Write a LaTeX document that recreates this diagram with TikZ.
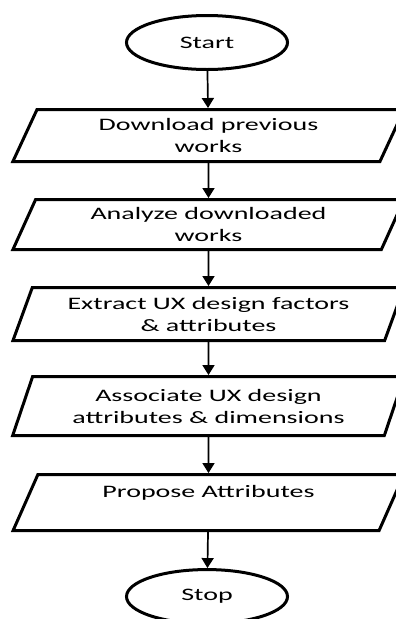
\documentclass[tikz,border=0pt]{standalone}
\usepackage{fontspec}
\setmainfont{Carlito}[FakeStretch=1.6]
\usepackage{tikz}
\usetikzlibrary{positioning}
\usetikzlibrary{shapes.geometric}
\usetikzlibrary{arrows.meta}
\tikzset{edge/.style = {-{Triangle[length=10pt,width=12pt]}, line width=1.7pt}}

\begin{document}
\begin{tikzpicture}[x=1pt,y=1pt,node distance=35pt,
    font=\fontsize{17.5}{22}\selectfont,
    term node/.style={ellipse,draw,line width=3pt,minimum width=161pt,minimum height=54pt},
    io node/.style={trapezium,trapezium left angle=68,trapezium right angle=112,
        trapezium stretches=true,draw,line width=3pt,align=center,inner xsep=0pt,inner ysep=2pt,
        minimum width=392pt,minimum height=52pt}]
                \useasboundingbox (0,0) rectangle (396,-619);

                \node[term node] (start) at (207,-42.5) {Start};
                \node[io node] (1) [below=37pt of start,xshift=1.5pt] {Download previous\\works};
                \node[io node,minimum height=50pt] (2) [below=of 1] {Analyze downloaded\\works};
                \node[io node,minimum height=53pt] (3) [below=of 2] {Extract UX design factors\\\& attributes};
                \node[io node,minimum height=59pt] (4) [below=33pt of 3] {Associate UX design\\attributes \& dimensions};
                \node[io node,minimum height=56pt] (5) [below=36pt of 4] {Propose Attributes\\\mbox{}};
                \node[term node] (stop) [below=36pt of 5,xshift=-1.5pt] {Stop};

                \path[edge] (start) edge[] node {} (1);
                \path[edge] (1) edge[] node {} (2);
                \path[edge] (2) edge[] node {} (3);
                \path[edge] (3) edge[] node {} (4);
                \path[edge] (4) edge[] node {} (5);
                \path[edge] (5) edge[] node {} (stop);
            \end{tikzpicture}
\end{document}
